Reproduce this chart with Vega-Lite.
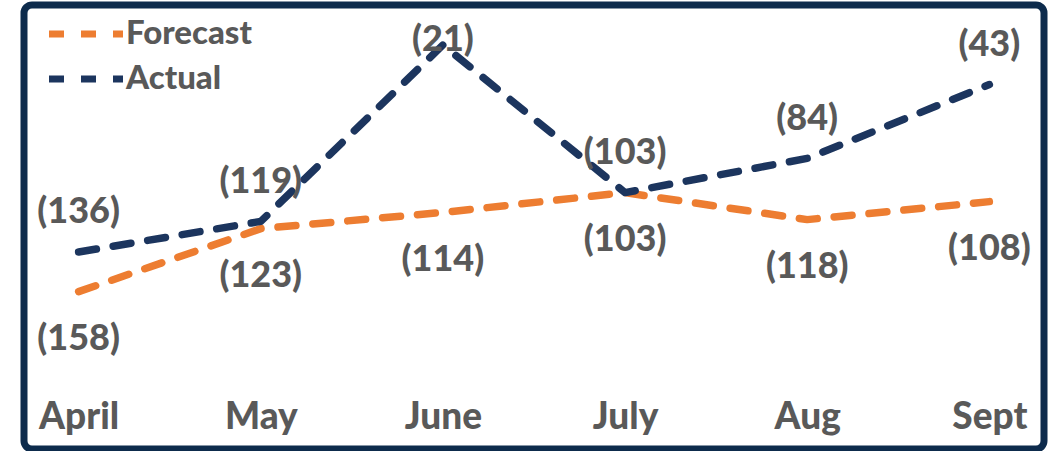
{
  "$schema": "https://vega.github.io/schema/vega-lite/v6.json",
  "autosize": {"type": "none"},
  "padding": {"left": 24, "top": 5, "right": 7, "bottom": 2},
  "width": 1020,
  "height": 444,
  "background": "white",
  "config": {
    "view": {"stroke": "#0d2b4c", "strokeWidth": 7, "cornerRadius": 8, "fill": "white"},
    "font": "Lato"
  },
  "data": {
    "values": [
      {"month": "April", "series": "Forecast", "value": -158},
      {"month": "May", "series": "Forecast", "value": -123},
      {"month": "June", "series": "Forecast", "value": -114},
      {"month": "July", "series": "Forecast", "value": -103},
      {"month": "Aug", "series": "Forecast", "value": -118},
      {"month": "Sept", "series": "Forecast", "value": -108},
      {"month": "April", "series": "Actual", "value": -136},
      {"month": "May", "series": "Actual", "value": -119},
      {"month": "June", "series": "Actual", "value": -21},
      {"month": "July", "series": "Actual", "value": -103},
      {"month": "Aug", "series": "Actual", "value": -84},
      {"month": "Sept", "series": "Actual", "value": -43}
    ]
  },
  "encoding": {
    "x": {
      "field": "month",
      "type": "ordinal",
      "sort": ["April", "May", "June", "July", "Aug", "Sept"],
      "scale": {"type": "point", "padding": 0.3},
      "axis": {
        "title": null,
        "domain": false,
        "ticks": false,
        "grid": false,
        "offset": -21,
        "labelPadding": 0,
        "labelBaseline": "alphabetic",
        "labelAngle": 0,
        "labelFont": "Lato",
        "labelFontWeight": 900,
        "labelFontSize": 37,
        "labelColor": "#595959"
      }
    }
  },
  "layer": [
    {
      "mark": {"type": "line", "strokeWidth": 7.5, "strokeDash": [18, 17], "strokeCap": "round", "strokeJoin": "round"},
      "encoding": {
        "y": {
          "field": "value",
          "type": "quantitative",
          "scale": {"domain": [-245.4, 1.2], "nice": false, "zero": false},
          "axis": null
        },
        "color": {
          "field": "series",
          "type": "nominal",
          "scale": {"domain": ["Forecast", "Actual"], "range": ["#ed7d31", "#1c355e"]},
          "legend": {
            "title": null,
            "orient": "none",
            "legendX": 40,
            "legendY": 7,
            "symbolType": "M-2,0H2",
            "symbolSize": 1369,
            "symbolStrokeWidth": 7,
            "symbolDash": [15, 17],
            "labelFont": "Lato",
            "labelFontWeight": 900,
            "labelFontSize": 33,
            "labelColor": "#595959",
            "labelOffset": 18,
            "rowPadding": 6
          }
        }
      }
    },
    {
      "transform": [
        {"calculate": "datum.series === 'Actual' ? min(datum.value + 22, -18) : datum.value - 26.5", "as": "label_anchor"}
      ],
      "mark": {"type": "text", "font": "Lato", "fontWeight": 900, "fontSize": 36, "color": "#595959", "baseline": "middle", "align": "center"},
      "encoding": {
        "y": {"field": "label_anchor", "type": "quantitative"},
        "text": {"field": "value", "type": "quantitative", "format": "(d"}
      }
    }
  ]
}
